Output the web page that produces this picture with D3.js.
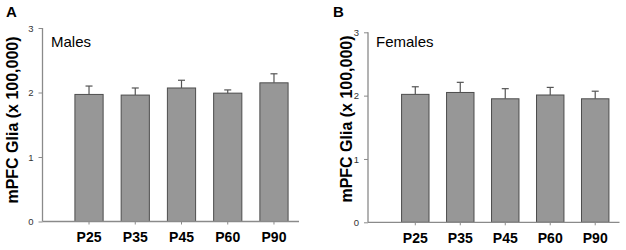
<!DOCTYPE html>
<html>
<head>
<meta charset="utf-8">
<script src="https://cdn.jsdelivr.net/npm/d3@7"></script>
<style>
  body { margin: 0; background: #fff; }
  svg { display: block; font-family: "Liberation Sans", Arial, sans-serif; }
</style>
</head>
<body>
<svg id="chart" width="626" height="250"></svg>
<script>
const categories = ["P25", "P35", "P45", "P60", "P90"];
const yTicks = [0, 1, 2, 3];
const malesMean = [1.97, 1.96, 2.07, 1.99, 2.15];
const malesErr  = [2.10, 2.07, 2.19, 2.04, 2.29];
const femalesMean = [2.02, 2.05, 1.95, 2.01, 1.95];
const femalesErr  = [2.14, 2.21, 2.11, 2.13, 2.07];

const panels = [
  { letter: "A", label: "Males", mean: malesMean, err: malesErr,
    axisX: 42.5, baseEnd: 299, band: [65.9, 297.1], y: [221.5, 28],
    letterX: 6, titleX: 17.5, titleY: 120, labelX: 51 },
  { letter: "B", label: "Females", mean: femalesMean, err: femalesErr,
    axisX: 368, baseEnd: 619.5, band: [392.8, 617.7], y: [222.3, 32.3],
    letterX: 333, titleX: 352, titleY: 119, labelX: 376 }
];

const svg = d3.select("#chart");

panels.forEach(p => {
  const g = svg.append("g");
  const x = d3.scaleBand().domain(categories).range(p.band).paddingInner(0.39).paddingOuter(0.195);
  const y = d3.scaleLinear().domain([0, 3]).range(p.y);

  // bars
  g.selectAll("rect.bar").data(categories).join("rect")
    .attr("x", d => x(d))
    .attr("y", (d, i) => y(p.mean[i]))
    .attr("width", x.bandwidth())
    .attr("height", (d, i) => y(0) - y(p.mean[i]))
    .attr("fill", "#979797")
    .attr("stroke", "#4d4d4d")
    .attr("stroke-width", 1);

  // error bars (upper only)
  categories.forEach((c, i) => {
    const cx = x(c) + x.bandwidth() / 2;
    g.append("line").attr("x1", cx).attr("x2", cx)
      .attr("y1", y(p.mean[i])).attr("y2", y(p.err[i]))
      .attr("stroke", "#555").attr("stroke-width", 1.2);
    g.append("line").attr("x1", cx - 3.5).attr("x2", cx + 3.5)
      .attr("y1", y(p.err[i])).attr("y2", y(p.err[i]))
      .attr("stroke", "#555").attr("stroke-width", 1.2);
  });

  // y axis
  const yAxis = d3.axisLeft(y).tickValues(yTicks).tickFormat(d3.format("d")).tickSize(4).tickPadding(5);
  const ya = g.append("g").attr("transform", `translate(${p.axisX},0)`).call(yAxis);
  ya.select(".domain").attr("stroke", "#8a8a8a").attr("stroke-width", 1.3).attr("d", `M0,${p.y[0]}V${p.y[1]}`);
  ya.selectAll(".tick line").attr("stroke", "#8a8a8a");
  ya.selectAll(".tick text").attr("fill", "#333").style("font-size", "9.5px");

  // x axis baseline + ticks
  const xa = g.append("g").attr("transform", `translate(0,${y(0)})`)
    .call(d3.axisBottom(x).tickSize(3).tickPadding(8));
  xa.select(".domain").attr("stroke", "#8a8a8a").attr("stroke-width", 1.3)
    .attr("d", `M${p.axisX},0H${p.baseEnd}`);
  xa.selectAll(".tick line").attr("stroke", "#8a8a8a");
  xa.selectAll(".tick text").attr("fill", "#000").style("font-size", "14px").style("font-weight", "bold");

  // panel letter
  g.append("text").attr("x", p.letterX).attr("y", 17).text(p.letter)
    .style("font-size", "15px").style("font-weight", "bold");

  // y title
  g.append("text").attr("transform", `translate(${p.titleX},${p.titleY}) rotate(-90)`)
    .attr("text-anchor", "middle").text("mPFC Glia (x 100,000)")
    .style("font-size", "16px").style("font-weight", "bold");

  // group label
  g.append("text").attr("x", p.labelX).attr("y", 47).text(p.label).style("font-size", "15px");
});
</script>
</body>
</html>
